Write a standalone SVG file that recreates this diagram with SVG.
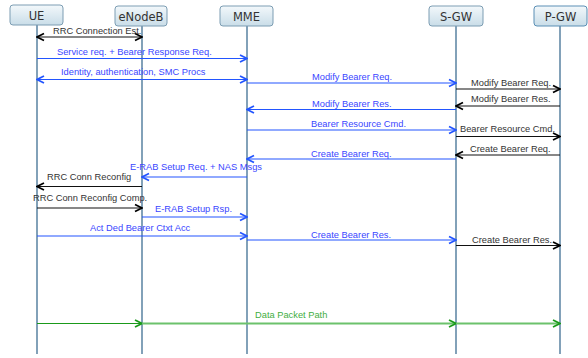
<svg xmlns="http://www.w3.org/2000/svg" width="588" height="358" viewBox="0 0 588 358">
<defs>
<linearGradient id="hdr" x1="0" y1="0" x2="0" y2="1">
<stop offset="0" stop-color="#f3f8fb"/>
<stop offset="1" stop-color="#c9dde8"/>
</linearGradient>
<marker id="ab" viewBox="0 0 10 10" refX="9" refY="5" markerWidth="10" markerHeight="10" markerUnits="userSpaceOnUse" orient="auto-start-reverse">
<path d="M2,1.5 L9,5 L2,8.5" fill="none" stroke="#000" stroke-width="1.8"/>
</marker>
<marker id="au" viewBox="0 0 10 10" refX="9" refY="5" markerWidth="10" markerHeight="10" markerUnits="userSpaceOnUse" orient="auto-start-reverse">
<path d="M2,1.5 L9,5 L2,8.5" fill="none" stroke="#2255ff" stroke-width="1.8"/>
</marker>
<marker id="ag" viewBox="0 0 10 10" refX="9" refY="5" markerWidth="10" markerHeight="10" markerUnits="userSpaceOnUse" orient="auto-start-reverse">
<path d="M2,1.5 L9,5 L2,8.5" fill="none" stroke="#1a9a1a" stroke-width="1.8"/>
</marker>
</defs>
<style>
.box{fill:url(#hdr);stroke:#7c9db3;stroke-width:1}
.hd{font-family:"DejaVu Sans","Liberation Sans",sans-serif;font-size:11.5px;fill:#333;text-anchor:middle}
.life{stroke:#3f6f93;stroke-width:1.3}
.t{font-family:"Liberation Sans",Arial,sans-serif;font-size:9.3px}
.tk{fill:#333}
.tb{fill:#3a46ff}
.tg{fill:#3fae3f}
.k{stroke:#111;stroke-width:1.2;fill:none;marker-end:url(#ab)}
.b{stroke:#2255ff;stroke-width:1.2;fill:none;marker-end:url(#au)}
.g{stroke:#1a9a1a;stroke-width:1.2;fill:none;marker-end:url(#ag)}
.gl{stroke:#6cc26c;stroke-width:2;fill:none;marker-end:url(#ag)}
</style>
<rect width="588" height="358" fill="#fff"/>
<g id="lifelines">
<line class="life" x1="37" y1="25" x2="37" y2="354"/>
<line class="life" x1="142" y1="26" x2="142" y2="354"/>
<line class="life" x1="247" y1="26" x2="247" y2="354"/>
<line class="life" x1="456" y1="26" x2="456" y2="354"/>
<line class="life" x1="560" y1="26" x2="560" y2="354"/>
</g>
<g id="UE"><rect class="box" x="10" y="5" width="53" height="20" rx="3"/><text class="hd" x="36.5" y="19.5">UE</text></g>
<g id="eNodeB"><rect class="box" x="115" y="6" width="52" height="20" rx="3"/><text class="hd" x="141" y="20.5">eNodeB</text></g>
<g id="MME"><rect class="box" x="220" y="6" width="53" height="20" rx="3"/><text class="hd" x="246.5" y="20.5">MME</text></g>
<g id="S-GW"><rect class="box" x="429" y="6" width="54" height="20" rx="3"/><text class="hd" x="456" y="20.5">S-GW</text></g>
<g id="P-GW"><rect class="box" x="534" y="6" width="53" height="20" rx="3" style="stroke:#5a8fb5"/><text class="hd" x="560.5" y="20.5">P-GW</text></g>
<g id="connectors">
<line class="k" x1="37" y1="37" x2="142" y2="37" style="marker-start:url(#ab)"/>
<line class="b" x1="37" y1="58.5" x2="247" y2="58.5"/>
<line class="b" x1="37" y1="79.5" x2="247" y2="79.5" style="marker-start:url(#au)"/>
<line class="b" x1="247" y1="83" x2="456" y2="83"/>
<line class="k" x1="456" y1="89" x2="560" y2="89"/>
<line class="k" x1="560" y1="106" x2="456" y2="106"/>
<line class="b" x1="456" y1="109.5" x2="247" y2="109.5"/>
<line class="b" x1="247" y1="130" x2="456" y2="130"/>
<line class="k" x1="456" y1="136.5" x2="560" y2="136.5"/>
<line class="k" x1="560" y1="155" x2="456" y2="155"/>
<line class="b" x1="456" y1="159" x2="247" y2="159"/>
<line class="b" x1="247" y1="177" x2="142" y2="177"/>
<line class="k" x1="142" y1="186.5" x2="37" y2="186.5"/>
<line class="k" x1="37" y1="208" x2="142" y2="208"/>
<line class="b" x1="142" y1="217" x2="247" y2="217"/>
<line class="b" x1="37" y1="236" x2="247" y2="236"/>
<line class="b" x1="247" y1="240" x2="456" y2="240"/>
<line class="k" x1="456" y1="245.5" x2="560" y2="245.5"/>
<line class="g" x1="37" y1="323.5" x2="142" y2="323.5"/>
<line class="gl" x1="142" y1="323.5" x2="456" y2="323.5"/>
<line class="gl" x1="456" y1="323.5" x2="560" y2="323.5"/>
</g>
<g id="labels">
<text class="t tk" x="53" y="34">RRC Connection Est.</text>
<text class="t tb" x="57" y="55">Service req. + Bearer Response Req.</text>
<text class="t tb" x="61" y="75">Identity, authentication, SMC Procs</text>
<text class="t tb" x="312" y="80">Modify Bearer Req.</text>
<text class="t tk" x="471" y="86">Modify Bearer Req.</text>
<text class="t tk" x="471" y="102">Modify Bearer Res.</text>
<text class="t tb" x="312" y="107">Modify Bearer Res.</text>
<text class="t tb" x="311" y="127">Bearer Resource Cmd.</text>
<text class="t tk" x="460" y="132">Bearer Resource Cmd.</text>
<text class="t tk" x="470" y="152">Create Bearer Req.</text>
<text class="t tb" x="311" y="157">Create Bearer Req.</text>
<text class="t tb" x="130" y="170">E-RAB Setup Req. + NAS Msgs</text>
<text class="t tk" x="47" y="180">RRC Conn Reconfig</text>
<text class="t tk" x="33" y="201">RRC Conn Reconfig Comp.</text>
<text class="t tb" x="155" y="212">E-RAB Setup Rsp.</text>
<text class="t tb" x="90" y="231">Act Ded Bearer Ctxt Acc</text>
<text class="t tb" x="311" y="238">Create Bearer Res.</text>
<text class="t tk" x="472" y="243">Create Bearer Res.</text>
<text class="t tg" x="255" y="318">Data Packet Path</text>
</g>
</svg>
